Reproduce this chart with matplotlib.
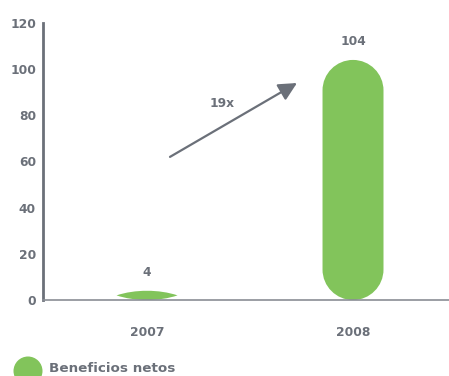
import matplotlib
matplotlib.use("Agg")
import matplotlib.pyplot as plt
from matplotlib.path import Path
from matplotlib.patches import PathPatch, Ellipse
import numpy as np

categories = ["2007", "2008"]
values = [4, 104]
value_labels = ["4", "104"]
series_name = "Beneficios netos"
growth_label = "19x"
yticks = [0, 20, 40, 60, 80, 100, 120]

GREEN = "#82c45b"
GRAY = "#6b7079"

plt.rcParams['font.family'] = ['DejaVu Sans']
FS = 8.8

W, H = 449, 376
fig = plt.figure(figsize=(W / 100, H / 100), dpi=100)
ax_l, ax_b, ax_t, ax_r = 43, 300, 23, 449
ax = fig.add_axes([ax_l / W, (H - ax_b) / H, (ax_r - ax_l) / W, (ax_b - ax_t) / H])

x = np.arange(len(categories))
ax.set_xlim(-0.505, 1.466)
ax.set_ylim(0, 120)
bw = 0.296

px_per_x = (ax_r - ax_l) / (1.466 + 0.505)
px_per_y = (ax_b - ax_t) / 120.0
k = 0.5523

def pill_path(xc, v):
    x0, x1 = xc - bw / 2, xc + bw / 2
    rx = bw / 2
    ry = rx * px_per_x / px_per_y
    if v >= 2 * ry:
        verts = [(x0, ry), (x0, v - ry),
                 (x0, v - ry + k * ry), (xc - k * rx, v), (xc, v),
                 (xc + k * rx, v), (x1, v - ry + k * ry), (x1, v - ry),
                 (x1, ry),
                 (x1, ry - k * ry), (xc + k * rx, 0), (xc, 0),
                 (xc - k * rx, 0), (x0, ry - k * ry), (x0, ry),
                 (x0, ry)]
        codes = [Path.MOVETO, Path.LINETO,
                 Path.CURVE4, Path.CURVE4, Path.CURVE4,
                 Path.CURVE4, Path.CURVE4, Path.CURVE4,
                 Path.LINETO,
                 Path.CURVE4, Path.CURVE4, Path.CURVE4,
                 Path.CURVE4, Path.CURVE4, Path.CURVE4,
                 Path.CLOSEPOLY]
    else:
        m = v / 2
        top = m + (v - m) * 4 / 3
        bot = m - m * 4 / 3
        verts = [(x0, m), (x0 + 0.3 * bw, top), (x1 - 0.3 * bw, top), (x1, m),
                 (x1 - 0.3 * bw, bot), (x0 + 0.3 * bw, bot), (x0, m), (x0, m)]
        codes = [Path.MOVETO, Path.CURVE4, Path.CURVE4, Path.CURVE4,
                 Path.CURVE4, Path.CURVE4, Path.CURVE4, Path.CLOSEPOLY]
    return Path(verts, codes)

for xi, v, lab in zip(x, values, value_labels):
    ax.add_patch(PathPatch(pill_path(xi, v), facecolor=GREEN, edgecolor='none', zorder=2))
    ax.text(xi, v + 8, lab, ha='center', va='center', fontsize=FS, fontweight='bold', color=GRAY)

ax.set_xticks(x)
ax.set_xticklabels(categories, fontsize=FS, fontweight='bold', color=GRAY)
ax.set_yticks(yticks)
ax.set_yticklabels([str(t) for t in yticks], fontsize=FS, fontweight='bold', color=GRAY)
ax.tick_params(axis='x', length=0, pad=19)
ax.tick_params(axis='y', length=0, pad=5)

for s in ['top', 'right']:
    ax.spines[s].set_visible(False)
ax.spines['left'].set_color(GRAY)
ax.spines['left'].set_linewidth(2)
ax.spines['bottom'].set_color('#8a8e95')
ax.spines['bottom'].set_linewidth(1.2)
ax.spines['bottom'].set_zorder(3)

ax.annotate('', xy=(0.728, 94.0), xytext=(0.1115, 62.0),
            arrowprops=dict(arrowstyle='-|>,head_length=1.1,head_width=0.55',
                            color=GRAY, lw=1.6, shrinkA=0, shrinkB=0))
ax.text(0.364, 85.3, growth_label, ha='center', va='center', fontsize=FS,
        fontweight='bold', color=GRAY)

fig.patches.append(Ellipse((28 / W, (H - 371) / H), 29 / W, 29 / H,
                           transform=fig.transFigure, facecolor=GREEN,
                           edgecolor='none'))
fig.text(49 / W, (H - 368) / H, series_name, ha='left', va='center',
         fontsize=9.7, fontweight='bold', color=GRAY)

fig.savefig('out.png', dpi=100)
